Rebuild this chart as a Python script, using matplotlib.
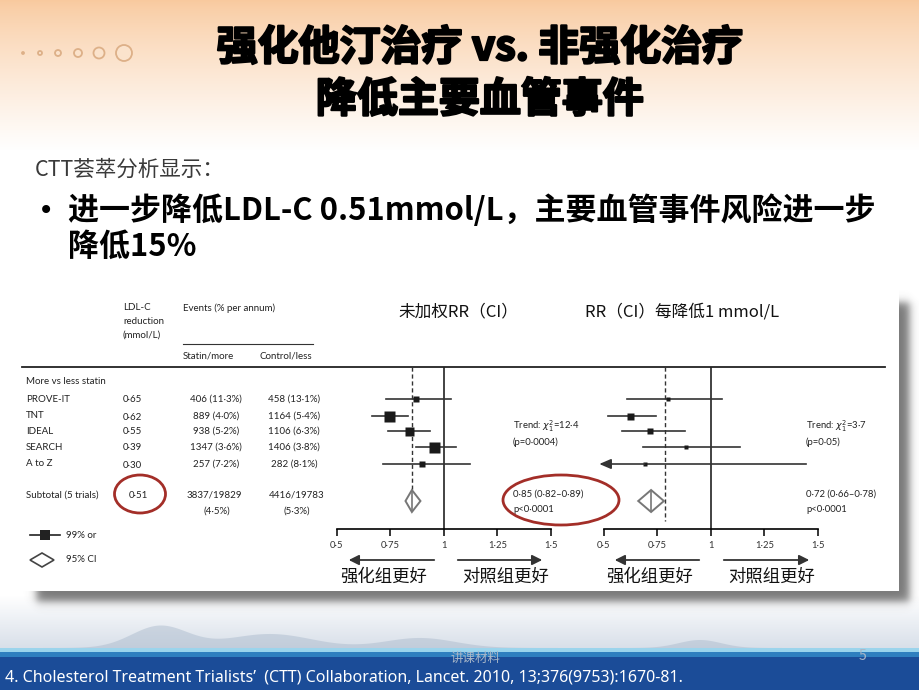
import matplotlib
matplotlib.use('Agg')
import matplotlib.pyplot as plt
import matplotlib.patheffects as pe
from matplotlib.patches import Rectangle, Ellipse, Polygon, Circle
from matplotlib import font_manager
import numpy as np

# ---- 数据 ----
trials = ['PROVE-IT', 'TNT', 'IDEAL', 'SEARCH', 'A to Z']
ldl_reduction = ['0·65', '0·62', '0·55', '0·39', '0·30']
statin_events = ['406 (11·3%)', '889 (4·0%)', '938 (5·2%)', '1347 (3·6%)', '257 (7·2%)']
control_events = ['458 (13·1%)', '1164 (5·4%)', '1106 (6·3%)', '1406 (3·8%)', '282 (8·1%)']
subtotal_ldl = '0·51'
subtotal_statin = ['3837/19829', '(4·5%)']
subtotal_control = ['4416/19783', '(5·3%)']

# 未加权 RR
rr_unw = [0.870, 0.745, 0.835, 0.955, 0.895]
rr_unw_lo = [0.730, 0.665, 0.740, 0.868, 0.713]
rr_unw_hi = [1.033, 0.833, 0.935, 1.055, 1.120]
sub_unw = (0.85, 0.82, 0.89)
ref_unw = 0.85

# 每降低 1 mmol/L 的 RR
rr_per = [0.800, 0.622, 0.715, 0.883, 0.690]
rr_per_lo = [0.609, 0.520, 0.586, 0.684, 0.478]
rr_per_hi = [1.051, 0.744, 0.879, 1.137, 1.443]
sub_per = (0.72, 0.66, 0.78)
ref_per = 0.785

tick_vals = [0.5, 0.75, 1, 1.25, 1.5]
tick_labels = ['0·5', '0·75', '1', '1·25', '1·5']

# ---- 样式 / 布局 ----
box_px_unw = [6, 11, 9, 11, 6]
box_px_per = [4, 7, 6, 4, 4]
row_y = [399, 416, 431, 447, 464]
sub_y = 501

names = {f.name for f in font_manager.fontManager.ttflist}
cjk = ['Noto Sans CJK SC', 'DejaVu Sans']
small = ['Lato', 'DejaVu Sans']
narrow = ['Liberation Sans Narrow', 'DejaVu Sans'] if 'Liberation Sans Narrow' in names else ['Noto Sans', 'DejaVu Sans']
plt.rcParams['font.family'] = cjk
plt.rcParams['mathtext.fontset'] = 'dejavusans'

fig = plt.figure(figsize=(9.2, 6.9), dpi=100)
bg = fig.add_axes([0, 0, 1, 1])
bg.set_xlim(0, 920)
bg.set_ylim(690, 0)
bg.axis('off')

# 背景渐变
yy = np.arange(690)
img = np.ones((690, 1, 3))
peach = np.array([0.975, 0.79, 0.62])
t = np.clip(yy / 150.0, 0, 1)
for c in range(3):
    img[:, 0, c] = peach[c] + (1 - peach[c]) * t ** 0.8
sky = np.array([0.84, 0.87, 0.91])
s = np.clip((yy - 595) / 55.0, 0, 1)
for c in range(3):
    img[:, 0, c] = img[:, 0, c] * (1 - s) + sky[c] * s
bg.imshow(img, extent=(0, 920, 690, 0), aspect='auto', zorder=0)

# 远山
xm = np.linspace(0, 920, 400)
ridge = 648 - 22 * np.exp(-((xm - 160) / 40) ** 2) - 14 * np.exp(-((xm - 270) / 60) ** 2) \
    - 10 * np.exp(-((xm - 420) / 50) ** 2) - 8 * np.exp(-((xm - 700) / 30) ** 2)
bg.fill_between(xm, ridge, 650, color='#a7b7ca', alpha=0.45, lw=0, zorder=1)

# 页脚色带
bg.add_patch(Rectangle((0, 648), 920, 4, color='#9bd4ec', lw=0, zorder=2))
bg.add_patch(Rectangle((0, 652), 920, 5, color='#2f7fbf', lw=0, zorder=2))
bg.add_patch(Rectangle((0, 657), 920, 33, color='#1b4c98', lw=0, zorder=2))
bg.text(475, 658, '讲课材料', fontsize=9, color='#a9b7c8', ha='center', va='center', zorder=3)
bg.text(862, 656, '5', fontsize=10, color='#a9b7c8', ha='center', va='center', zorder=3)
bg.text(5, 677, '4. Cholesterol Treatment Trialists’  (CTT) Collaboration, Lancet. 2010, 13;376(9753):1670-81.',
        fontsize=11.5, color='white', ha='left', va='center', family=narrow, zorder=3)

# 装饰小圆圈
for cx, r in zip([23, 40, 58, 78, 99, 124], [1, 2, 3, 4, 5.5, 8]):
    bg.add_patch(Circle((cx, 53), r, facecolor='#fbe3cc', edgecolor='#ddb088', lw=1.3, zorder=2))

# 标题 (加描边使字形更粗)
heavy = [pe.withStroke(linewidth=1.6, foreground='black')]
bg.text(480, 48, '强化他汀治疗 vs. 非强化治疗', fontsize=29.5, fontweight='black', ha='center', va='center',
        color='black', path_effects=heavy)
bg.text(480, 100, '降低主要血管事件', fontsize=29.5, fontweight='black', ha='center', va='center',
        color='black', path_effects=heavy)

bg.text(35, 170, 'CTT荟萃分析显示：', fontsize=15.5, ha='left', va='center', color='#3a3a3a')
bg.text(38, 211, '•', fontsize=20, ha='left', va='center', color='black', family=['DejaVu Sans'])
bg.text(68, 211, '进一步降低LDL-C 0.51mmol/L，主要血管事件风险进一步', fontsize=22.3, fontweight='bold',
        ha='left', va='center', color='black')
bg.text(68, 247, '降低15%', fontsize=22.3, fontweight='bold', ha='left', va='center', color='black')

# 面板阴影 (模糊矩形)
sx = np.arange(22, 920)
sy = np.arange(290, 620)
ax_a = 0.5 * (np.tanh((sx - 36) / 5.0) - np.tanh((sx - 909) / 5.0))
ay_a = 0.5 * (np.tanh((sy - 302) / 5.0) - np.tanh((sy - 601) / 5.0))
shadow = np.zeros((len(sy), len(sx), 4))
shadow[..., :3] = 0.30
shadow[..., 3] = 0.75 * np.outer(ay_a, ax_a)
bg.imshow(shadow, extent=(22, 920, 620, 290), aspect='auto', zorder=3, interpolation='bilinear')
bg.add_patch(Rectangle((22, 290), 877, 301, facecolor='white', lw=0, zorder=4))

# 表头
tk = dict(fontsize=7, family=small, color='#222222', zorder=5)
bg.text(123, 308, 'LDL-C', ha='left', va='center', **tk)
bg.text(123, 322, 'reduction', ha='left', va='center', **tk)
bg.text(123, 335, '(mmol/L)', ha='left', va='center', **tk)
bg.text(183, 308, 'Events (% per annum)', ha='left', va='center', **tk)
bg.plot([183, 313], [344, 344], color='#333333', lw=0.8, zorder=5)
bg.text(183, 356, 'Statin/more', ha='left', va='center', **tk)
bg.text(260, 356, 'Control/less', ha='left', va='center', **tk)
bg.plot([22, 885], [367, 367], color='#222222', lw=1.3, zorder=5)
bg.text(26, 381, 'More vs less statin', ha='left', va='center', **tk)

for i, name in enumerate(trials):
    y = row_y[i]
    bg.text(26, y, name, ha='left', va='center', **tk)
    bg.text(123, y + 1, ldl_reduction[i], ha='left', va='center', **tk)
    bg.text(216, y, statin_events[i], ha='center', va='center', **tk)
    bg.text(294, y, control_events[i], ha='center', va='center', **tk)

bg.text(26, 495, 'Subtotal (5 trials)', ha='left', va='center', **tk)
bg.text(129, 495, subtotal_ldl, ha='left', va='center', **tk)
bg.text(214, 495, subtotal_statin[0], ha='center', va='center', **tk)
bg.text(217, 511, subtotal_statin[1], ha='center', va='center', **tk)
bg.text(297, 495, subtotal_control[0], ha='center', va='center', **tk)
bg.text(297, 511, subtotal_control[1], ha='center', va='center', **tk)

# 图例
bg.plot([30, 60], [535, 535], color='#222222', lw=1.2, zorder=5)
bg.add_patch(Rectangle((40, 530), 10, 10, facecolor='#222222', lw=0, zorder=6))
bg.text(66, 535, '99% or', ha='left', va='center', **tk)
bg.add_patch(Polygon([[30, 560], [42, 553], [54, 560], [42, 567]], closed=True,
                     facecolor='white', edgecolor='#444444', lw=1.2, zorder=6))
bg.text(66, 560, '95% CI', ha='left', va='center', **tk)

# 红圈
bg.add_patch(Ellipse((140, 494), 51, 38, facecolor='none', edgecolor='#a32e28', lw=2, zorder=7))
bg.add_patch(Ellipse((561, 500), 116, 50, facecolor='none', edgecolor='#a32e28', lw=2, zorder=7))

# 面板标题
bg.text(398, 312, '未加权RR（CI）', fontsize=12, ha='left', va='center', color='#111111', zorder=6)
bg.text(585, 312, 'RR（CI）每降低1 mmol/L', fontsize=12, ha='left', va='center', color='#111111', zorder=6)

# 右侧统计文字
st = dict(fontsize=6.8, family=small, color='#222222', ha='left', va='center', zorder=6)
bg.text(513, 426, 'Trend: $\\chi^2_1$=12·4', **st)
bg.text(513, 442, '(p=0·0004)', **st)
bg.text(513, 494, '0·85 (0·82–0·89)', **st)
bg.text(513, 510, 'p<0·0001', **st)
bg.text(806, 426, 'Trend: $\\chi^2_1$=3·7', **st)
bg.text(806, 442, '(p=0·05)', **st)
bg.text(806, 494, '0·72 (0·66–0·78)', **st)
bg.text(806, 510, 'p<0·0001', **st)

# 底部箭头与说明
arr = dict(arrowstyle='-|>,head_length=0.6,head_width=0.3', color='#333333', lw=1.3)
for x0, x1 in [(437, 346), (455, 545), (702, 612), (721, 812)]:
    bg.annotate('', xy=(x1, 560), xytext=(x0, 560), arrowprops=arr, zorder=6)
for x, label in [(384, '强化组更好'), (506, '对照组更好'), (650, '强化组更好'), (772, '对照组更好')]:
    bg.text(x, 577, label, fontsize=12.5, ha='center', va='center', color='#111111', zorder=6)


def forest(x0, x1, est, lo, hi, box_px, sub, ref, ref_bottom):
    ax = fig.add_axes([x0 / 920, (690 - 529) / 690, (x1 - x0) / 920, (529 - 367) / 690])
    ax.set_facecolor('none')
    ax.set_zorder(10)
    ax.set_xlim(0.5, 1.5)
    ax.set_ylim(529, 367)
    for sp in ['top', 'right', 'left']:
        ax.spines[sp].set_visible(False)
    ax.spines['bottom'].set_linewidth(1.2)
    ax.set_yticks([])
    ax.set_xticks(tick_vals)
    ax.set_xticklabels(tick_labels, family=small, fontsize=6.8, color='#333333')
    ax.tick_params(axis='x', direction='out', length=5, width=1.1, pad=4)
    ax.axvline(1, color='#222222', lw=1.2)
    ax.vlines(ref, 367, ref_bottom, color='#333333', lw=1, linestyles=(0, (3, 2)))
    for i in range(len(est)):
        y = row_y[i]
        if lo[i] < 0.5:
            ax.plot([est[i], hi[i]], [y, y], color='#333333', lw=1.2)
            ax.annotate('', xy=(lo[i], y), xytext=(est[i], y), annotation_clip=False,
                        arrowprops=dict(arrowstyle='-|>,head_length=0.7,head_width=0.3',
                                        color='#333333', lw=1.2, shrinkA=0, shrinkB=0))
        else:
            ax.plot([lo[i], hi[i]], [y, y], color='#333333', lw=1.2)
        ax.plot(est[i], y, marker='s', markersize=box_px[i] * 0.72, color='#1a1a1a', mec='none')
    e, l, h = sub
    ax.add_patch(Polygon([[l, sub_y], [e, sub_y - 11], [h, sub_y], [e, sub_y + 11]], closed=True,
                         facecolor='white', edgecolor='#777777', lw=1.4, zorder=3))
    ax.plot([e, e], [sub_y - 10, sub_y + 10], color='#777777', lw=1.2, zorder=4)
    return ax


forest(337, 551, rr_unw, rr_unw_lo, rr_unw_hi, box_px_unw, sub_unw, ref_unw, 512)
forest(604, 818, rr_per, rr_per_lo, rr_per_hi, box_px_per, sub_per, ref_per, 521)

fig.savefig('out.png', dpi=100)
